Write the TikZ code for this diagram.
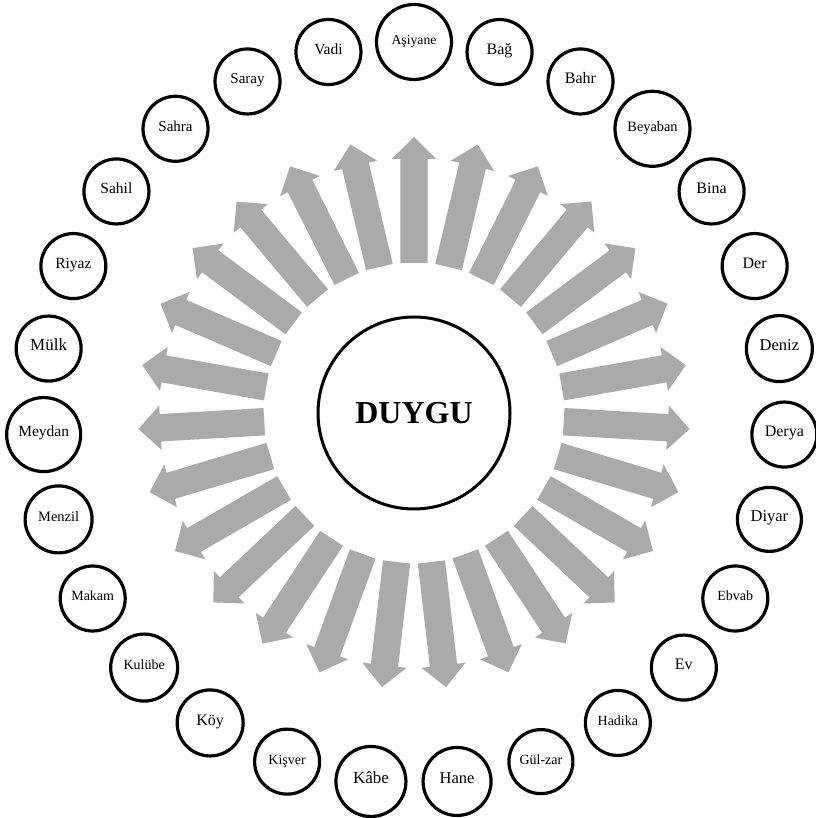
\documentclass[tikz,border=0pt]{standalone}
\usepackage{fontspec}
\setmainfont{Liberation Serif}
\definecolor{arrowgray}{RGB}{170,170,170}
\begin{document}
\begin{tikzpicture}[x=1pt,y=1pt,
  leaf/.style={circle,draw=black,line width=3.2pt,minimum size=#1,inner sep=0pt,
    text height=0.68em,text depth=0.2em},
  hub/.style={circle,draw=black,line width=3pt,minimum size=192pt,inner sep=0pt,
    font=\bfseries\fontsize{32}{36}\selectfont},
  ray/.style={fill=arrowgray}]
\useasboundingbox (0,0) rectangle (815,818);
\coordinate (c) at (414,405);
\node[hub] (duygu) at (c) {DUYGU};
\foreach \i in {0,...,26} {
  \pgfmathsetmacro\ang{90-\i*360/27}
  \fill[ray,shift={(c)},rotate=\ang] (150,-13.7) -- (254,-13.7) -- (254,-22.3) -- (276,0)
     -- (254,22.3) -- (254,13.7) -- (150,13.7) -- cycle;
}
\foreach \name/\fs/\d [count=\i from 0] in {
  Aşiyane/13.7/75, Bağ/16/65, Bahr/16/65, Beyaban/14.3/75, Bina/16/65,
  Der/16/65, Deniz/16.5/66, Derya/16/65, Diyar/16.5/64, Ebvab/14/65,
  Ev/16/65, Hadika/14/65, Gül-zar/14/64, Hane/16.5/68, Kâbe/17/70,
  Kişver/14/65, Köy/16/66, Kulübe/14/67, Makam/14/65, Menzil/14.4/67,
  Meydan/15.5/74, Mülk/17/65, Riyaz/15.5/65, Sahil/15.5/65, Sahra/15/65,
  Saray/15/65, Vadi/15.5/65} {
  \pgfmathsetmacro\ang{90-\i*360/27}
  \node[leaf=\d pt,font=\fontsize{\fs}{\fs}\selectfont] (n\i) at ([shift={(c)}]\ang:371) {\name};
}
\end{tikzpicture}
\end{document}
